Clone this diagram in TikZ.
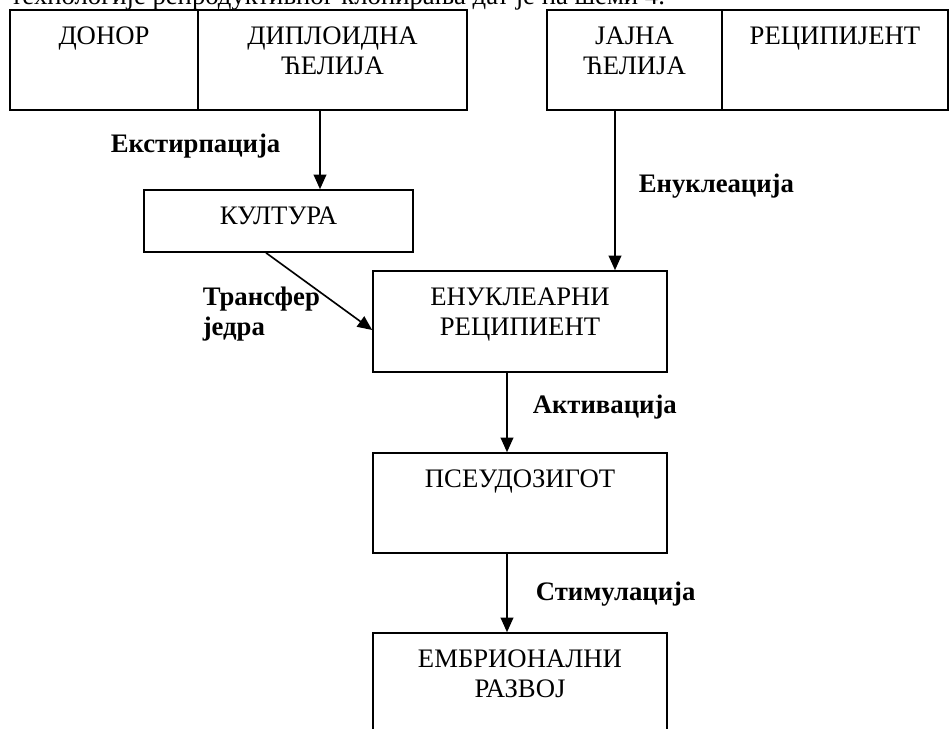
\documentclass[tikz,border=0pt]{standalone}
\usepackage{fontspec}
\setmainfont{Liberation Serif}
\usetikzlibrary{arrows.meta, positioning}

\tikzset{
  box/.style={draw, line width=0.7pt, inner sep=0pt, minimum height=1.5cm},
  txt/.style={anchor=north, inner sep=0pt, yshift=-0.255cm, align=center},
  step label/.style={font=\fontsize{11.4}{12.8}\selectfont\bfseries, inner sep=0pt, anchor=base west}
}

\begin{document}
\begin{tikzpicture}[font=\fontsize{11.4}{12.8}\selectfont, on grid,
    >={Triangle[length=6.2pt, width=5.4pt]}, line width=0.7pt]
  \useasboundingbox (0,0) rectangle (14.25,-10.935);
  \clip (0,0) rectangle (14.25,-10.935);
  % line of text cut off above the scheme
  \node[inner sep=0pt, anchor=base west] (intro) at (0.15,-0.06)
    {технологије репродуктивног клонирања дат је на шеми 4.};
  % top row
  \node[box, minimum width=2.82cm, label={[txt]north:ДОНОР}] (donor) at (1.56,-0.9) {};
  \node[box, minimum width=4.035cm, label={[txt]north:ДИПЛОИДНА\\ЋЕЛИЈА}] (diploid)
    [right=3.4275cm of donor] {};
  \node[box, minimum width=2.625cm, label={[txt]north:ЈАЈНА\\ЋЕЛИЈА}] (egg) at (9.5175,-0.9) {};
  \node[box, minimum width=3.39cm, label={[txt]north:РЕЦИПИЈЕНТ}] (recipient)
    [right=3.0075cm of egg] {};
  % chain
  \node[box, minimum width=4.035cm, minimum height=0.93cm, label={[txt]north:КУЛТУРА}] (culture)
    at (4.1775,-3.315) {};
  \node[box, minimum width=4.41cm, minimum height=1.515cm, label={[txt]north:ЕНУКЛЕАРНИ\\РЕЦИПИЕНТ}] (enucl)
    at (7.8,-4.8225) {};
  \node[box, minimum width=4.41cm, label={[txt]north:ПСЕУДОЗИГОТ}] (pseudo)
    [below=2.7225cm of enucl] {};
  \node[box, minimum width=4.41cm, label={[txt]north:ЕМБРИОНАЛНИ\\РАЗВОЈ}] (embryo)
    [below=2.7cm of pseudo] {};

  \draw[->] ([xshift=-0.1875cm]diploid.south) -- ([xshift=0.6225cm]culture.north);
  \draw[->] ([xshift=-0.2925cm]egg.south) -- ([xshift=1.425cm]enucl.north);
  \draw[->] ([xshift=-0.1875cm]culture.south) -- ([yshift=-0.1275cm]enucl.west);
  \draw[->] ([xshift=-0.195cm]enucl.south) -- ([xshift=-0.195cm]pseudo.north);
  \draw[->] ([xshift=-0.195cm]pseudo.south) -- ([xshift=-0.195cm]embryo.north);

  \node[step label] (extirp) at (1.65,-2.28) {Екстирпација};
  \node[step label] (enucleation) at (9.57,-2.88) {Енуклеација};
  \node[step label, anchor=north west, align=left] (transfer) at (3.03,-4.29) {Трансфер\\једра};
  \node[step label] (activation) at (7.98,-6.195) {Активација};
  \node[step label] (stimulation) at (8.025,-9.0) {Стимулација};
\end{tikzpicture}
\end{document}
